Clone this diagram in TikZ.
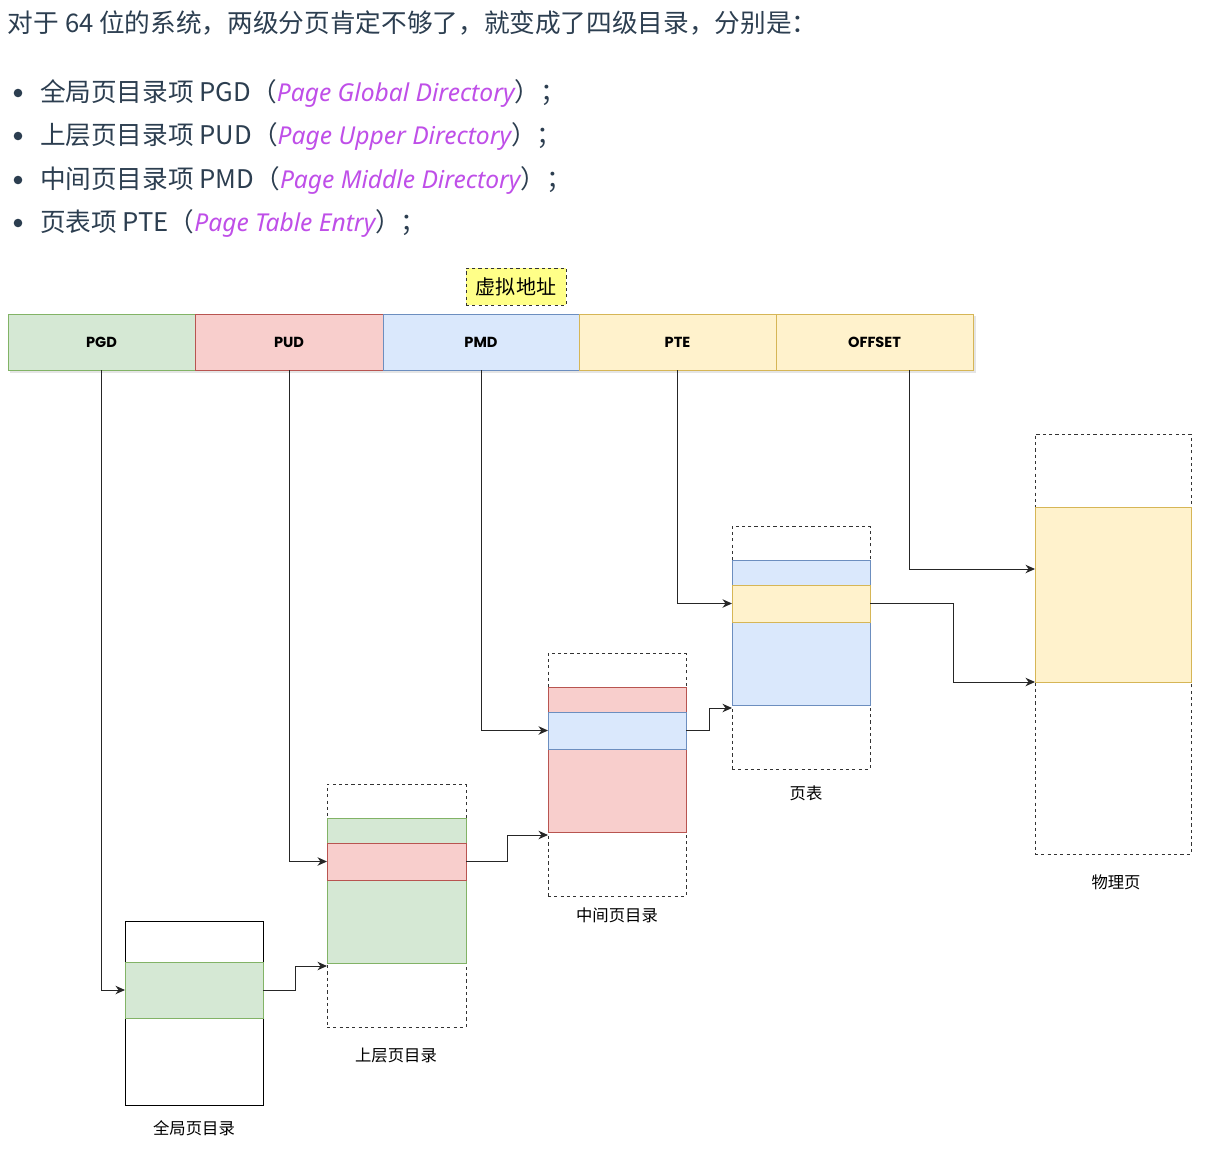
\documentclass[tikz,border=0pt]{standalone}
\usepackage{fontspec}
\setmainfont{Noto Sans CJK SC}
\newfontfamily\lat{Noto Sans}[Scale=0.96]
\newfontfamily\barf{Poppins}
\usetikzlibrary{fit,arrows.meta}
\definecolor{txt}{HTML}{2C3E50}
\definecolor{purp}{HTML}{BF4FE8}
\definecolor{gfill}{HTML}{D5E8D4}\definecolor{gline}{HTML}{82B366}
\definecolor{rfill}{HTML}{F8CECC}\definecolor{rline}{HTML}{B85450}
\definecolor{bfill}{HTML}{DAE8FC}\definecolor{bline}{HTML}{6C8EBF}
\definecolor{yfill}{HTML}{FFF2CC}\definecolor{yline}{HTML}{D6B656}
\definecolor{vfill}{HTML}{FFFF88}
\newcommand{\pit}[1]{{\lat\itshape\color{purp}#1}}
\begin{document}
\begin{tikzpicture}[x=0.02cm,y=-0.02cm,
  every node/.style={inner sep=0pt,outer sep=0pt},
  seg/.style={draw,line width=0.5pt},
  dbox/.style={draw=black!80,dash pattern=on 1.8pt off 1.8pt,line width=0.5pt},
  sbox/.style={draw,line width=0.5pt},
  arr/.style={line width=0.55pt,black!85,-{Stealth[length=5.4pt,width=4.8pt,inset=1.7pt]}},
  bartext/.style={font=\barf\bfseries\fontsize{8.3}{9}\selectfont},
  head/.style={anchor=west,text=txt,font=\fontsize{14.6}{17}\selectfont},
  caplbl/.style={font=\fontsize{9.3}{11}\selectfont}]
\useasboundingbox (0,0) rectangle (1207,1149);
% heading text
\node[head] (h0) at (8,23) {对于 64 位的系统，两级分页肯定不够了，就变成了四级目录，分别是：};
\foreach \yy in {93,136,180,223}{\fill[txt] (18,\yy) circle (4.3);}
\node[head] (b1) at (40,93) {全局页目录项 PGD（\pit{Page Global Directory}）；};
\node[head] (b2) at (40,136) {上层页目录项 PUD（\pit{Page Upper Directory}）；};
\node[head] (b3) at (40,180) {中间页目录项 PMD（\pit{Page Middle Directory}）；};
\node[head] (b4) at (40,223) {页表项 PTE（\pit{Page Table Entry}）；};
% virtual address label
\node[dbox,fill=vfill,fit={(466,268)(566,305)}] (va) {};
\node[font=\fontsize{11.4}{13}\selectfont] at (va.center) {虚拟地址};
% bar shadow
\fill[black!10] (10,370) rectangle (975,373);
\fill[black!10] (973,316) rectangle (976,373);
% bar segments
\node[seg,fill=gfill,draw=gline,fit={(8,314)(195,370)}] (pgd) {};
\node[seg,fill=rfill,draw=rline,fit={(195,314)(383,370)}] (pud) {};
\node[seg,fill=bfill,draw=bline,fit={(383,314)(579,370)}] (pmd) {};
\node[seg,fill=yfill,draw=yline,fit={(579,314)(776,370)}] (pte) {};
\node[seg,fill=yfill,draw=yline,fit={(776,314)(973,370)}] (off) {};
\node[bartext] at (pgd.center) {PGD};
\node[bartext] at (pud.center) {PUD};
\node[bartext] at (pmd.center) {PMD};
\node[bartext] at (pte.center) {PTE};
\node[bartext] at (off.center) {OFFSET};
% global page directory
\node[sbox,fit={(125,921)(263,1105)}] (gdir) {};
\node[sbox,fill=gfill,draw=gline,fit={(125,962)(263,1018)}] (gE) {};
\node[caplbl] at (194,1128) {全局页目录};
% upper page directory
\node[dbox,fit={(327,784)(466,1027)}] (udir) {};
\node[sbox,fill=gfill,draw=gline,fit={(327,818)(466,963)}] (uG) {};
\node[sbox,fill=rfill,draw=rline,fit={(327,843)(466,880)}] (uE) {};
\node[caplbl] at (396,1055) {上层页目录};
% middle page directory
\node[dbox,fit={(548,653)(686,896)}] (mdir) {};
\node[sbox,fill=rfill,draw=rline,fit={(548,687)(686,832)}] (mR) {};
\node[sbox,fill=bfill,draw=bline,fit={(548,712)(686,749)}] (mE) {};
\node[caplbl] at (617,915) {中间页目录};
% page table
\node[dbox,fit={(732,526)(870,769)}] (tdir) {};
\node[sbox,fill=bfill,draw=bline,fit={(732,560)(870,705)}] (tB) {};
\node[sbox,fill=yfill,draw=yline,fit={(732,585)(870,622)}] (tE) {};
\node[caplbl] at (806,793) {页表};
% physical page
\node[dbox,fit={(1035,434)(1191,854)}] (phy) {};
\node[sbox,fill=yfill,draw=yline,fit={(1035,507)(1191,682)}] (pY) {};
\node[caplbl] at (1116,882) {物理页};
% connectors
\coordinate (offOut) at (909,370);
\coordinate (phyIn1) at (1035,569);
\coordinate (uIn) at (327,966);
\coordinate (mIn) at (548,835);
\coordinate (tIn) at (732,708);
\coordinate (pIn) at (1035,682);
\draw[arr] (pgd.south) |- (gE.west);
\draw[arr] (pud.south) |- (uE.west);
\draw[arr] (pmd.south) |- (mE.west);
\draw[arr] (pte.south) |- (tE.west);
\draw[arr] (offOut) |- (phyIn1);
\draw[arr] (gE.east) -- ++(32,0) |- (uIn);
\draw[arr] (uE.east) -- ++(41,0) |- (mIn);
\draw[arr] (mE.east) -- ++(23,0) |- (tIn);
\draw[arr] (tE.east) -- ++(83,0) |- (pIn);
\end{tikzpicture}
\end{document}
